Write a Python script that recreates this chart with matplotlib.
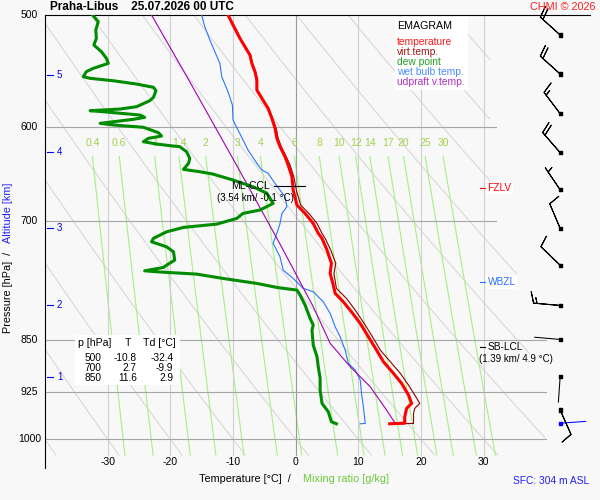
import numpy as np
import matplotlib
matplotlib.use("Agg")
import matplotlib.pyplot as plt
import matplotlib.transforms as mtransforms
from matplotlib.patches import Rectangle
from matplotlib.ticker import NullLocator

plt.rcParams['font.family'] = ['Liberation Sans', 'DejaVu Sans']

# ---- sounding values (pressure hPa, temperature degC) ----
t_p = [500.0, 508.2, 519.4, 526.6, 533.8, 541.1, 548.5, 556.0, 565.2, 572.9, 582.4,
       591.9, 601.7, 611.6, 620.0, 630.3, 638.9, 651.2, 665.5, 682.1, 691.4, 702.8,
       714.3, 720.2, 734.1, 750.2, 762.6, 777.3, 787.9, 798.8, 812.0, 827.5, 845.8,
       864.4, 881.0, 897.9, 912.7, 930.3, 943.0, 950.7, 963.9, 974.0, 975.0]
t_val = [-10.8, -10.0, -8.9, -8.1, -7.3, -7.0, -6.5, -6.2, -6.2, -5.4, -4.4,
         -3.8, -3.3, -3.0, -2.5, -1.7, -1.2, -0.6, -0.4, 0.2, 1.5, 2.8,
         3.6, 4.2, 5.0, 5.7, 5.5, 6.0, 6.3, 7.6, 8.9, 10.3, 11.6,
         12.9, 14.0, 15.6, 16.9, 18.0, 18.5, 17.7, 17.4, 17.4, 15.0]

tv_p = [500.0, 508.2, 519.4, 526.6, 533.8, 541.1, 548.5, 556.0, 565.2, 572.9, 582.4,
        591.9, 601.7, 611.6, 620.0, 630.3, 638.9, 651.2, 665.5, 682.1, 691.4, 702.8,
        714.3, 720.2, 734.1, 750.2, 762.6, 781.5, 794.4, 809.7, 829.8, 848.0, 864.4,
        881.0, 897.9, 915.2, 930.3, 943.0, 950.7, 958.5, 974.4, 975.0]
tv_val = [-10.7, -9.9, -8.8, -8.0, -7.2, -6.9, -6.4, -6.1, -6.1, -5.3, -4.3,
          -3.7, -3.1, -2.8, -2.3, -1.5, -0.9, -0.3, 0.1, 0.8, 2.1, 3.4,
          4.2, 4.7, 5.6, 6.4, 6.1, 6.5, 8.1, 9.5, 11.1, 12.4, 13.5,
          15.1, 16.7, 18.0, 19.0, 19.8, 19.0, 18.8, 18.8, 16.1]

td_p = [500.0, 505.5, 512.4, 519.4, 525.1, 530.9, 536.7, 541.1, 545.5, 548.5, 553.0,
        554.5, 556.7, 559.7, 562.7, 565.8, 572.0, 575.2, 580.8, 583.0, 584.6, 585.6,
        588.8, 591.0, 592.9, 596.8, 598.4, 600.7, 606.0, 609.3, 611.6, 615.0, 617.3,
        619.4, 620.0, 625.2, 632.0, 637.1, 643.4, 645.9, 648.4, 654.7, 662.0, 669.1,
        680.2, 687.6, 691.4, 697.1, 703.6, 707.4, 712.5, 720.2, 724.2, 730.2, 736.2,
        746.2, 752.4, 755.2, 759.4, 760.6, 763.5, 768.9, 775.2, 780.3, 783.7, 790.1,
        803.1, 820.7, 829.8, 836.6, 857.4, 873.8, 888.2, 905.2, 922.7, 943.0, 956.0,
        971.8, 975.0]
td_val = [-32.4, -31.5, -31.9, -31.8, -32.2, -31.0, -30.2, -29.9, -32.3, -33.4, -33.9,
          -32.8, -29.1, -25.4, -22.7, -22.3, -22.7, -23.3, -25.4, -28.0, -32.8, -30.7,
          -24.8, -24.1, -25.9, -31.2, -29.1, -24.3, -21.9, -21.4, -23.5, -24.3, -22.2,
          -19.5, -18.5, -17.4, -16.9, -17.1, -17.9, -15.3, -13.2, -10.0, -6.8, -4.6,
          -3.6, -5.7, -8.4, -9.4, -12.6, -17.9, -20.6, -22.7, -23.0, -20.6, -19.5,
          -19.3, -20.6, -21.1, -24.1, -22.2, -15.8, -11.6, -6.2, -3.0, 0.2, 0.7,
          1.5, 2.3, 2.8, 2.6, 2.8, 3.4, 3.6, 3.9, 3.9, 4.2, 5.2,
          5.7, 6.5]

tw_p = [500.0, 509.7, 520.8, 530.9, 541.1, 553.0, 566.8, 579.2, 593.6, 603.4, 613.3,
        623.4, 637.1, 644.1, 647.6, 658.3, 672.9, 683.9, 691.4, 702.8, 714.3, 726.1,
        742.2, 758.5, 768.9, 781.5, 785.8, 798.8, 814.1, 832.1, 845.8, 864.4, 883.3,
        893.0, 907.8, 927.7, 948.3, 974.4, 975.0]
tw_val = [-15.0, -14.5, -13.7, -12.9, -12.1, -11.8, -10.8, -10.1, -10.0, -9.2, -8.4,
          -7.6, -6.2, -5.4, -4.4, -3.3, -1.7, -1.4, -2.2, -2.5, -3.0, -3.6,
          -2.5, -2.0, -0.4, 1.2, 2.8, 4.4, 5.5, 6.3, 7.1, 7.9, 8.4,
          9.5, 10.3, 10.5, 10.8, 11.1, 10.3]

up_p = [500.0, 557.6, 637.1, 726.9, 805.3, 854.9, 888.2, 917.8, 953.4, 974.4]
up_val = [-23.0, -16.9, -9.6, -2.5, 2.8, 5.5, 8.7, 11.9, 14.5, 15.9]

# wind (direction deg, speed kt) at the barb column
barb_p = [516.6, 550.6, 587.5, 626.1, 665.3, 708.5, 752.5, 803.6, 849.5, 902.6, 953.3, 974.0]
barb_dir = [312, 312, 323, 319, 326, 337, 314, 275, 275, 184, 156, 86]
barb_spd = [20, 20, 15, 20, 5, 10, 10, 15, 0, 0, 10, 0]

# table values
tab_p = [500, 700, 850]
tab_t = [-10.8, 2.7, 11.6]
tab_td = [-32.4, -9.9, 2.9]

# altitude marks
alt_km = [1, 2, 3, 4, 5]
alt_p = [903.8, 802.9, 708.2, 625.1, 551.5]

# diagram lines
iso_t = [-30, -20, -10, 0, 10, 20, 30]
grid_p = [600, 700, 850, 925, 1000]
grid_end = [32, 32, 40, 40, 40]
mix_w = [0.4, 0.6, 1, 1.4, 2, 3, 4, 6, 8, 10, 12, 14, 17, 20, 25, 30]
theta_c = list(range(-40, 101, 10))

fzlv_p, wbzl_p, lcl_p, ccl_p = 663.0, 773.5, 860.5, 660.8

W, H = 600, 500
BG = '#f8f8f8'


def fx(x):
    return x / W


def fy(y):
    return 1 - y / H


def td_from_w(w, p):
    e = w * p / (622.0 + w)
    a = np.log(e / 6.112)
    return 243.5 * a / (17.67 - a)


fig = plt.figure(figsize=(6, 5), dpi=100, facecolor=BG)
ax = fig.add_axes([fx(45), fy(468), 545 / W, 453 / H])
ax.set_facecolor(BG)
ax.set_yscale('log')
ax.set_xlim(-40, 46.96)
ax.set_ylim(1048, 500)
ax.set_xticks([])
ax.set_yticks([])
ax.yaxis.set_minor_locator(NullLocator())
ax.spines['right'].set_visible(False)
ax.spines['bottom'].set_visible(False)
ax.spines['left'].set_linewidth(0.8)
ax.spines['top'].set_linewidth(0.8)

# dry adiabats
pp = np.geomspace(500, 1026, 200)
frac = np.clip(np.log(pp / 600) / np.log(1000 / 600), 0, 1)
t_lim = 31 + 9 * frac
for th in theta_c:
    tt = (th + 273.15) * (pp / 1000) ** 0.2857 - 273.15
    tt = np.where(tt <= t_lim, tt, np.nan)
    ax.plot(tt, pp, color='#d8d8d8', lw=0.8, zorder=1)

# mixing ratio lines
pm = np.geomspace(630, 1026, 50)
for w in mix_w:
    ax.plot(td_from_w(w, pm), pm, color='#a4f086', lw=0.8, zorder=1.1)
    ax.text(td_from_w(w, 630), 616, f'{w:g}', color='#a2d24c', fontsize=7.5,
            ha='center', va='center')

# isotherms and isobars
for t in iso_t:
    ax.plot([t, t], [500, 1026], color='#9a9a9a' if t == 0 else '#d0d0d0', lw=0.8, zorder=1.2)
for p, te in zip(grid_p, grid_end):
    ax.plot([-40, te], [p, p], color='#a6a6a6', lw=0.8, zorder=1.3)

# profiles
ax.plot(tv_val, tv_p, color='#8b0000', lw=0.8, zorder=3)
ax.plot(t_val, t_p, color='#ff0000', lw=2.2, zorder=3.5)
ax.plot(td_val, td_p, color='#008c00', lw=2.2, zorder=3.5)
ax.plot(tw_val, tw_p, color='#2a75ff', lw=0.8, zorder=3.2)
ax.plot(up_val, up_p, color='#a000b0', lw=0.8, zorder=3.2)

# altitude ticks
for km, p in zip(alt_km, alt_p):
    ax.plot([-39.7, -38.7], [p, p], color='#0000ee', lw=0.8)
    ax.text(-37.66, p, str(km), color='#0000ee', fontsize=7, ha='center', va='center')

# wind barbs
bx = 42.2
bp = np.array(barb_p)
bd = np.radians(barb_dir)
bs = np.array(barb_spd, dtype=float)
u = -bs * np.sin(bd)
v = -bs * np.cos(bd)
has = bs >= 2.5
ax.barbs(np.full(has.sum(), bx), bp[has], u[has], v[has], length=6.2, linewidth=0.75,
         color='k', zorder=4, clip_on=False,
         sizes=dict(height=0.42, spacing=0.13, width=0.25))
L = 18.5
for i in np.where(~has)[0]:
    col = '#0000ff' if i == len(bp) - 1 else 'k'
    ax.annotate('', xy=(bx, bp[i]), xytext=(L * np.sin(bd[i]), L * np.cos(bd[i])),
                textcoords='offset points',
                arrowprops=dict(arrowstyle='-', color=col, lw=0.75, shrinkA=0, shrinkB=0))
dot_cols = ['k'] * (len(bp) - 1) + ['#0000ff']
ax.scatter(np.full(len(bp), bx), bp, marker='s', s=5, c=dot_cols, zorder=5, clip_on=False)

# level markers
for p, name, col, box in [(fzlv_p, 'FZLV', '#ff0000', True), (wbzl_p, 'WBZL', '#2a6fff', True),
                          (lcl_p, 'SB-LCL', 'k', False)]:
    ax.plot([29.4, 30.2], [p, p], color=col, lw=0.8, zorder=4)
    ax.text(30.6, p, name, color=col, fontsize=7.3, ha='left', va='center', zorder=4,
            bbox=dict(facecolor='white', edgecolor='none', pad=1) if box else None)
ax.text(35.15, 877.0, '(1.39 km/ 4.9 °C)', fontsize=7, ha='center', va='center')
ax.plot([-3.4, 1.5], [ccl_p, ccl_p], color='k', lw=0.8, zorder=4)
ax.text(-7.29, ccl_p, 'ML-CCL', fontsize=7.5, ha='center', va='center', zorder=4)
ax.text(-6.41, 674.6, '(3.54 km/ -0.1 °C)', fontsize=7, ha='center', va='center', zorder=4)

# pressure labels and temperature labels
ylab_tr = mtransforms.blended_transform_factory(fig.transFigure, ax.transData)
for p in [500, 600, 700, 850, 925, 1000]:
    ax.text(fx(29.5), p, str(p), transform=ylab_tr, fontsize=7.5, ha='center', va='center')
xlab_tr = mtransforms.blended_transform_factory(ax.transData, fig.transFigure)
for t in iso_t:
    ax.text(t, fy(462), str(t), transform=xlab_tr, fontsize=7.5, ha='center', va='center')

# boxes
fig.add_artist(Rectangle((fx(395), fy(90)), 73 / W, 73 / H, transform=fig.transFigure,
                         facecolor='white', edgecolor='none', zorder=1))
fig.add_artist(Rectangle((fx(75), fy(385)), 105 / W, 50 / H, transform=fig.transFigure,
                         facecolor='white', edgecolor='none', zorder=1))

# legend
legend_labels = ['temperature', 'virt.temp.', 'dew point', 'wet bulb temp.', 'udpraft v.temp.']
legend_colors = ['#ff1a1a', '#a01818', '#22a022', '#4a8cff', '#b030c0']
fig.text(fx(397), fy(26), 'EMAGRAM', fontsize=7.7, ha='left', va='center', zorder=3)
for i, (lab, col) in enumerate(zip(legend_labels, legend_colors)):
    fig.text(fx(397), fy(42 + 10 * i), lab, color=col, fontsize=7.4, ha='left', va='center', zorder=3)

# table
fig.text(fx(78.3), fy(343.3), 'p [hPa]', fontsize=7.6, ha='left', va='center', zorder=3)
fig.text(fx(127.8), fy(343.3), 'T', fontsize=7.6, ha='center', va='center', zorder=3)
fig.text(fx(143.3), fy(343.3), 'Td [°C]', fontsize=7.6, ha='left', va='center', zorder=3)
for i in range(len(tab_p)):
    yy = fy(358.3 + 10 * i)
    fig.text(fx(101.7), yy, str(tab_p[i]), fontsize=7.3, ha='right', va='center', zorder=3)
    fig.text(fx(136.7), yy, f'{tab_t[i]:.1f}', fontsize=7.3, ha='right', va='center', zorder=3)
    fig.text(fx(173.3), yy, f'{tab_td[i]:.1f}', fontsize=7.3, ha='right', va='center', zorder=3)

# titles and axis labels
fig.text(fx(50), fy(7.5), 'Praha-Libus    25.07.2026 00 UTC', fontsize=8.5, fontweight='bold',
         ha='left', va='center')
fig.text(fx(596), fy(7.5), 'CHMI © 2026', color='#ff2020', fontsize=7.8, ha='right', va='center')
fig.text(fx(589), fy(481), 'SFC: 304 m ASL', color='#2020ff', fontsize=7.4, ha='right', va='center')
fig.text(fx(291), fy(479), 'Temperature [°C]  /', fontsize=7.8, ha='right', va='center')
fig.text(fx(302.7), fy(479), 'Mixing ratio [g/kg]', color='#6cc83a', fontsize=7.8,
         ha='left', va='center')
fig.text(fx(8), fy(333), 'Pressure [hPa]  /', fontsize=7.8, rotation=90, ha='center', va='bottom')
fig.text(fx(8), fy(183), 'Altitude [km]', color='#2020ff', fontsize=7.8, rotation=90,
         ha='center', va='top')

fig.savefig('out.png', dpi=100, facecolor=BG)
